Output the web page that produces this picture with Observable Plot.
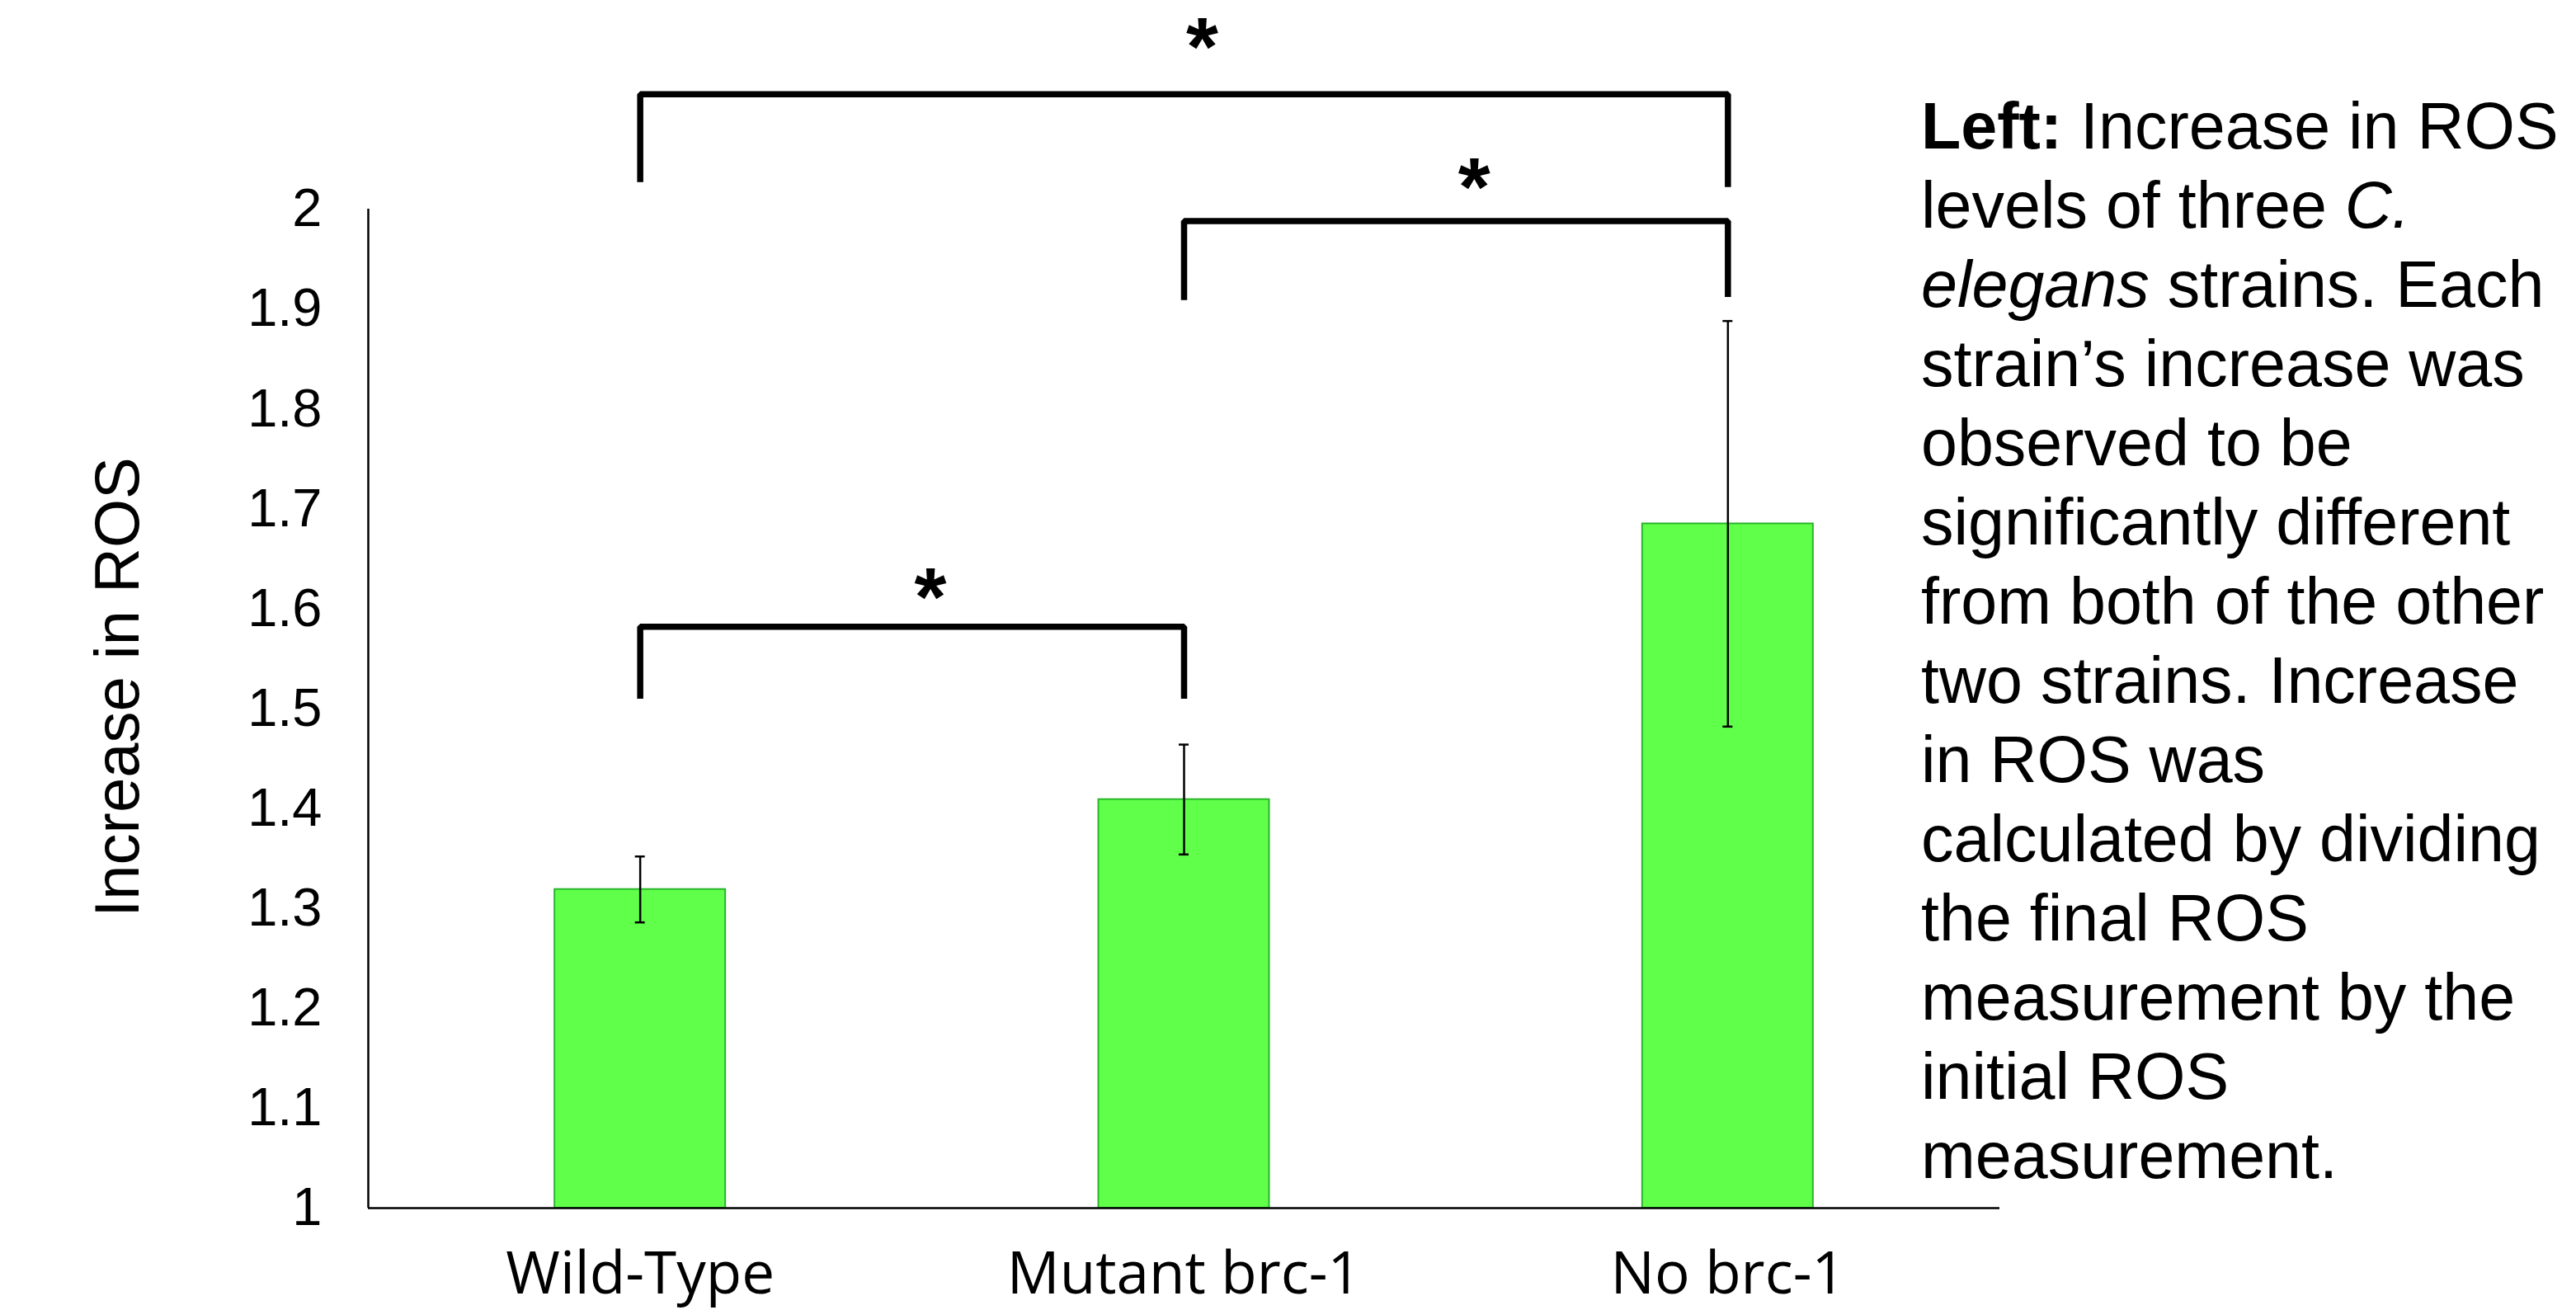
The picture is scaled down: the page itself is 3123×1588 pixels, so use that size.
<!DOCTYPE html>
<html>
<head>
<meta charset="utf-8">
<script src="https://cdn.jsdelivr.net/npm/d3@7"></script>
<script src="https://cdn.jsdelivr.net/npm/@observablehq/plot@0.6"></script>
<style>
  html, body { margin: 0; padding: 0; background: #ffffff; }
  #wrap { position: relative; width: 3123px; height: 1588px; overflow: hidden; background: #ffffff; }
  #chart { position: absolute; left: 0; top: 0; }
  #caption {
    position: absolute; left: 2329px; top: 105px;
    font-family: "Liberation Sans", Arial, sans-serif;
    font-size: 79px; line-height: 96px; color: #000; white-space: nowrap;
  }
</style>
</head>
<body>
<div id="wrap">
  <div id="chart"></div>
  <div id="caption"><b>Left:</b> Increase in ROS<br>levels of three <i>C.</i><br><i>elegans</i> strains. Each<br>strain’s increase was<br>observed to be<br>significantly different<br>from both of the other<br>two strains. Increase<br>in ROS was<br>calculated by dividing<br>the final ROS<br>measurement by the<br>initial ROS<br>measurement.</div>
</div>
<script>
// ---- data ----
const categories = ["Wild-Type", "Mutant brc-1", "No brc-1"];
const means = [1.319, 1.409, 1.685];
const errors = [0.033, 0.055, 0.203];
const yTicks = [1, 1.1, 1.2, 1.3, 1.4, 1.5, 1.6, 1.7, 1.8, 1.9, 2];
const yLabel = "Increase in ROS";
// significance brackets (category indices and levels in data units)
const bracketFrom = [0, 1, 0];
const bracketTo = [2, 2, 1];
const bracketTop = [2.115, 1.988, 1.582];
const bracketLegLeft = [2.027, 1.909, 1.510];
const bracketLegRight = [2.022, 1.912, 1.510];
const starLevel = [2.173, 2.033, 1.622];
const starText = ["*", "*", "*"];

// ---- derived tables ----
const bars = categories.map((c, i) => ({i, c, v: means[i], e: errors[i]}));
const bracketPts = bracketFrom.flatMap((f, b) => [
  {b, x: f, y: bracketLegLeft[b]},
  {b, x: f, y: bracketTop[b]},
  {b, x: bracketTo[b], y: bracketTop[b]},
  {b, x: bracketTo[b], y: bracketLegRight[b]}
]);
const stars = bracketFrom.map((f, b) => ({x: (f + bracketTo[b]) / 2, y: starLevel[b], t: starText[b]}));

const W = 3123, H = 1588;
const mL = 446, mR = W - 2424, mT = 253, mB = H - 1464;
const step = (W - mL - mR) / 3;
const barW = 207, capW = 12;

const chart = Plot.plot({
  width: W,
  height: H,
  marginLeft: mL,
  marginRight: mR,
  marginTop: mT,
  marginBottom: mB,
  style: {background: "#ffffff", overflow: "visible"},
  x: {type: "linear", domain: [-0.5, 2.5], label: null},
  y: {domain: [1, 2], label: null},
  marks: [
    Plot.rectY(bars, {
      x1: d => d.i - 0.5, x2: d => d.i + 0.5, y1: 1, y2: "v",
      insetLeft: (step - barW) / 2, insetRight: (step - barW) / 2,
      fill: "#5fff4a", stroke: "#2bb52b", strokeWidth: 2
    }),
    Plot.ruleX(bars, {x: "i", y1: d => d.v - d.e, y2: d => d.v + d.e, stroke: "#000", strokeWidth: 2.5}),
    Plot.ruleY(bars, {y: d => d.v + d.e, x1: d => d.i - 0.5, x2: d => d.i + 0.5,
      insetLeft: (step - capW) / 2, insetRight: (step - capW) / 2, stroke: "#000", strokeWidth: 2.5}),
    Plot.ruleY(bars, {y: d => d.v - d.e, x1: d => d.i - 0.5, x2: d => d.i + 0.5,
      insetLeft: (step - capW) / 2, insetRight: (step - capW) / 2, stroke: "#000", strokeWidth: 2.5}),
    Plot.ruleX([-0.5], {y1: 1, y2: 2, stroke: "#000", strokeWidth: 2.5}),
    Plot.ruleY([1], {x1: -0.5, x2: 2.5, stroke: "#000", strokeWidth: 2.5}),
    Plot.axisY({
      ticks: yTicks, tickSize: 0, tickPadding: 56, label: null,
      tickFormat: d3.format("~g"),
      fontSize: 65, fontFamily: "Liberation Sans, Arial, sans-serif"
    }),
    Plot.axisX({
      ticks: categories.map((c, i) => i), tickSize: 0, tickPadding: 53, label: null,
      tickFormat: i => categories[i],
      fontSize: 71, fontFamily: "Open Sans, sans-serif"
    }),
    Plot.text([yLabel], {
      text: d => d, frameAnchor: "left", textAnchor: "middle", rotate: -90, dx: -303, dy: -26,
      fontSize: 76, fontFamily: "Liberation Sans, Arial, sans-serif", fill: "#000"
    }),
    Plot.line(bracketPts, {x: "x", y: "y", z: "b", stroke: "#000", strokeWidth: 7.5,
      strokeLinejoin: "miter", strokeLinecap: "butt"}),
    Plot.text(stars, {x: "x", y: "y", text: "t", dx: 22, dy: 15,
      fontSize: 100, fontWeight: "bold", fontFamily: "Liberation Sans, Arial, sans-serif", fill: "#000"})
  ]
});
document.getElementById("chart").appendChild(chart);
</script>
</body>
</html>
